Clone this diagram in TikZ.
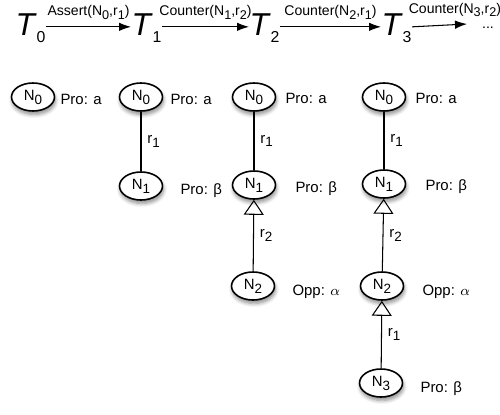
\documentclass[tikz,border=0pt]{standalone}
\usepackage{fontspec}
\setmainfont{Liberation Sans}
\usetikzlibrary{shapes.geometric,shadows.blur,arrows.meta}
\newcommand{\low}[1]{\raisebox{-.5ex}{\scalebox{.9}{#1}}}
\newcommand{\tsub}[1]{\raisebox{-4pt}{\fontsize{9}{9}\selectfont #1}}

\begin{document}
\begin{tikzpicture}[line width=0.6pt,
  arg/.style={ellipse, draw, line width=0.9pt, fill=white, minimum width=0.86cm, minimum height=0.56cm, inner sep=0pt,
    font=\fontsize{8.5}{10}\selectfont,
    blur shadow={shadow xshift=0.5pt, shadow yshift=-2pt, shadow blur steps=6, shadow opacity=45}},
  tstate/.style={anchor=base west, inner sep=0pt, font=\fontsize{18}{18}\selectfont},
  lab/.style={anchor=west, inner sep=0pt, font=\fontsize{8.5}{10}\selectfont},
  move/.style={-{Latex[length=0.24cm,width=0.17cm]}},
  att/.style={-{Triangle[open,length=0.3cm,width=0.4cm]}},
  mv/.style={above=4pt, inner sep=0pt, font=\fontsize{8}{9}\selectfont},
  rl/.style={right, font=\fontsize{8.5}{10}\selectfont}
]
\useasboundingbox (0,0) rectangle (10,-8.28);

% moves
\node[tstate] (T0) at (0.30,-0.70) {\textit{T}\tsub{0}};
\node[tstate] (T1) at (2.62,-0.70) {\textit{T}\tsub{1}};
\node[tstate] (T2) at (4.98,-0.70) {\textit{T}\tsub{2}};
\node[tstate] (T3) at (7.62,-0.70) {\textit{T}\tsub{3}};
\coordinate (Tend) at (9.34,-0.48);
\node[inner sep=0pt, font=\fontsize{8}{9}\selectfont] (dots) at (9.76,-0.56) {...};

\draw[move] ([yshift=2pt]T0.mid east) -- ([yshift=2pt]T1.mid west)
  node[midway, mv] {Assert(N\low{0},r\low{1})};
\draw[move] ([yshift=2pt]T1.mid east) -- ([yshift=2pt]T2.mid west)
  node[midway, mv] {Counter(N\low{1},r\low{2})};
\draw[move] ([yshift=2pt]T2.mid east) -- ([yshift=2pt]T3.mid west)
  node[midway, mv] {Counter(N\low{2},r\low{1})};
\draw[move] ([yshift=2pt]T3.mid east) -- (Tend)
  node[pos=0.78, mv] {Counter(N\low{3},r\low{2})};

% T0
\node[arg] (a0) at (0.66,-1.94) {N\low{0}};
\node[lab] (pa0) at (1.20,-1.98) {Pro: a};

% T1
\node[arg] (b0) at (2.82,-1.94) {N\low{0}};
\node[lab] (pb0) at (3.40,-1.98) {Pro: a};
\node[arg] (b1) at (2.82,-3.72) {N\low{1}};
\node[lab] (pb1) at (3.60,-3.82) {Pro: β};
\draw (b0) -- (b1) node[midway, rl] {r\low{1}};

% T2
\node[arg] (c0) at (5.08,-1.94) {N\low{0}};
\node[lab] (pc0) at (5.70,-1.96) {Pro: a};
\node[arg] (c1) at (5.08,-3.70) {N\low{1}};
\node[lab] (pc1) at (5.90,-3.78) {Pro: β};
\node[arg] (c2) at (5.06,-5.72) {N\low{2}};
\node[lab] (pc2) at (5.84,-5.84) {Opp: $\alpha$};
\draw (c0) -- (c1) node[midway, rl] {r\low{1}};
\draw[att] (c2) -- (c1) node[midway, rl] {r\low{2}};

% T3
\node[arg] (d0) at (7.68,-1.94) {N\low{0}};
\node[lab] (pd0) at (8.30,-1.96) {Pro: a};
\node[arg] (d1) at (7.68,-3.68) {N\low{1}};
\node[lab] (pd1) at (8.50,-3.74) {Pro: β};
\node[arg] (d2) at (7.64,-5.72) {N\low{2}};
\node[lab] (pd2) at (8.44,-5.84) {Opp: $\alpha$};
\node[arg] (d3) at (7.62,-7.66) {N\low{3}};
\node[lab] (pd3) at (8.40,-7.78) {Pro: β};
\draw (d0) -- (d1) node[midway, rl] {r\low{1}};
\draw[att] (d2) -- (d1) node[midway, rl] {r\low{2}};
\draw[att] (d3) -- (d2) node[midway, rl] {r\low{1}};
\end{tikzpicture}
\end{document}
